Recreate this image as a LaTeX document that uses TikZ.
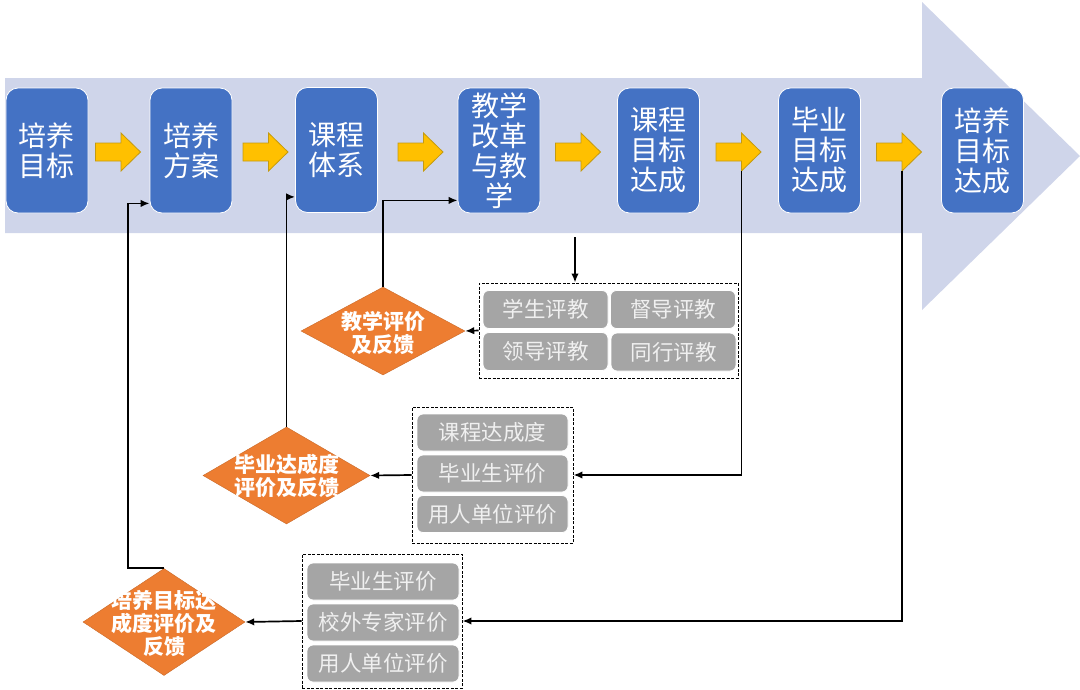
\documentclass[tikz,border=0pt]{standalone}
\usepackage{fontspec}
\setmainfont{Noto Sans CJK SC}
\usetikzlibrary{shapes.geometric,arrows.meta}
\definecolor{bandc}{HTML}{CFD5EA}
\definecolor{bluec}{HTML}{4472C4}
\definecolor{yelc}{HTML}{FFC000}
\definecolor{yeld}{HTML}{C49A10}
\definecolor{orc}{HTML}{ED7D31}
\definecolor{grayc}{HTML}{A5A5A5}
\definecolor{gtext}{HTML}{F0F0F0}
\newcommand\yarr[2]{%
  \draw[yar] (#1,143) -- ++(25.5,0) -- ++(0,-10) -- ++(19.5,19) -- ++(-19.5,19) -- ++(0,-10) -- ++(-25.5,0) -- cycle;
  \coordinate (#2) at (#1+25.5,171);}
\begin{document}
\begin{tikzpicture}[x=1pt,y=-1pt,
  bluebox/.style={draw=white, line width=0.8pt, fill=bluec, rounded corners=12pt,
    minimum width=82pt, minimum height=125pt, inner sep=0pt, text=white, align=center,
    font=\fontsize{28}{30}\selectfont},
  gbox/.style={draw=white, line width=0.8pt, fill=grayc, rounded corners=6pt,
    minimum height=37pt, inner sep=0pt, text=gtext, font=\fontsize{21.5}{24}\selectfont},
  dashbox/.style={draw=black, dash pattern=on 3pt off 1.5pt, line width=0.9pt, inner sep=0pt},
  dia/.style={diamond, fill=orc, draw=orc!85!black, line width=0.4pt, inner sep=0pt},
  dtext/.style={text=white, font=\bfseries\fontsize{21}{23}\selectfont, align=center, inner sep=0pt},
  fb/.style={draw=black, line width=1.7pt, -{Latex[length=9pt,width=7.5pt]}},
  yar/.style={fill=yelc, draw=yeld, line width=0.8pt}]
\useasboundingbox (0,0) rectangle (1080,689);
% big background arrow
\fill[bandc] (5,78) -- (922,78) -- (922,2) -- (1080,156) -- (922,310) -- (922,233) -- (5,233) -- cycle;
% blue boxes
\node[bluebox] (b1) at (47,150.5) {培养\\目标};
\node[bluebox] (b2) at (191,150.5) {培养\\方案};
\node[bluebox] (b3) at (336.5,150) {课程\\体系};
\node[bluebox] (b4) at (499,150.5) {教学\\改革\\与教\\学};
\node[bluebox] (b5) at (658.5,150.5) {课程\\目标\\达成};
\node[bluebox] (b6) at (819.5,150.5) {毕业\\目标\\达成};
\node[bluebox] (b7) at (982.5,150.5) {培养\\目标\\达成};
% yellow arrows
\yarr{95.5}{a1}
\yarr{243}{a2}
\yarr{398}{a3}
\yarr{555.5}{a4}
\yarr{716}{a5}
\yarr{876.5}{a6}
% group 1
\node[dashbox, minimum width=259pt, minimum height=95pt] (g1) at (608.5,330.5) {};
\node[gbox, minimum width=125pt, minimum height=38pt] (g1a) at (545.5,309.5) {学生评教};
\node[gbox, minimum width=125pt, minimum height=38pt] (g1b) at (673,309.5) {督导评教};
\node[gbox, minimum width=125pt, minimum height=38pt] (g1c) at (545.5,351.5) {领导评教};
\node[gbox, minimum width=125pt, minimum height=38pt] (g1d) at (673.5,352) {同行评教};
% group 2
\node[dashbox, minimum width=161pt, minimum height=136pt] (g2) at (492.5,475) {};
\node[gbox, minimum width=151pt] (g2a) at (492.5,432.5) {课程达成度};
\node[gbox, minimum width=151pt] (g2b) at (492.5,473.5) {毕业生评价};
\node[gbox, minimum width=151pt] (g2c) at (492.5,514) {用人单位评价};
% group 3
\node[dashbox, minimum width=160pt, minimum height=134pt] (g3) at (382,621) {};
\node[gbox, minimum width=152pt] (g3a) at (383,581.5) {毕业生评价};
\node[gbox, minimum width=152pt] (g3b) at (383,622.5) {校外专家评价};
\node[gbox, minimum width=152pt] (g3c) at (383,663.5) {用人单位评价};
% diamonds
\node[dia, minimum width=164pt, minimum height=88pt] (d1) at (383,331) {};
\node[dtext] (d1t) at (383,333) {教学评价\\及反馈};
\node[dia, minimum width=167pt, minimum height=97pt] (d2) at (286.5,475.5) {};
\node[dtext] (d2t) at (286.5,476) {毕业达成度\\评价及反馈};
\node[dia, minimum width=162pt, minimum height=107pt] (d3) at (164,622) {};
\node[dtext] (d3t) at (164,623) {培养目标达\\成度评价及\\反馈};
% connectors
\draw[fb] (d1.north) |- ([yshift=13pt]b4.south west);
\draw[fb] (d2.north) |- ([yshift=16pt]b3.south west);
\draw[fb] (d3.north) -- ++(-36,0) |- ([yshift=10pt]b2.south west);
\coordinate (dn) at (575,237);
\draw[fb] (dn) -- (dn |- g1.north);
\draw[fb] (g1.west) -- (d1.east);
\draw[fb] (a5) |- (g2.east);
\draw[fb] (g2.west) -- (d2.east);
\draw[fb] (a6) |- (g3.east);
\draw[fb] (g3.west) -- (d3.east);
\end{tikzpicture}
\end{document}
